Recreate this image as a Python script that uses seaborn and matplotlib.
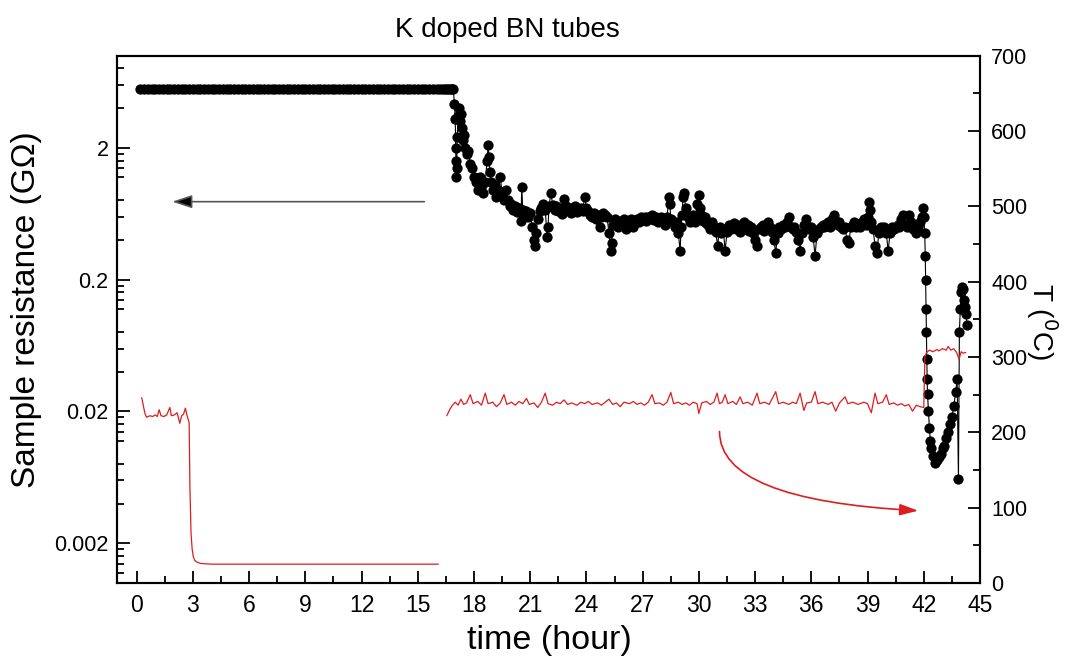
import matplotlib
matplotlib.use("Agg")
import matplotlib.pyplot as plt
import pandas as pd
import seaborn as sns
from matplotlib.ticker import FixedLocator, NullFormatter
from matplotlib import font_manager

# ---------------- data ----------------
# saturated part of the resistance curve (instrument limit)
res_sat_time = [0.2, 0.4, 0.6, 0.8, 1.0, 1.2, 1.4, 1.6, 1.8, 2.0, 2.2, 2.4, 2.6, 2.8,
                3.0, 3.2, 3.4, 3.6, 3.8, 4.0, 4.2, 4.4, 4.6, 4.8, 5.0, 5.2, 5.4, 5.6,
                5.8, 6.0, 6.2, 6.4, 6.6, 6.8, 7.0, 7.2, 7.4, 7.6, 7.8, 8.0, 8.2, 8.4,
                8.6, 8.8, 9.0, 9.2, 9.4, 9.6, 9.8, 10.0, 10.2, 10.4, 10.6, 10.8, 11.0,
                11.2, 11.4, 11.6, 11.8, 12.0, 12.2, 12.4, 12.6, 12.8, 13.0, 13.2, 13.4,
                13.6, 13.8, 14.0, 14.2, 14.4, 14.6, 14.8, 15.0, 15.2, 15.4, 15.6, 15.8,
                16.0, 16.2]
res_sat_level = 5.62

res_time = [16.35, 16.45, 16.55, 16.65, 16.75, 16.85, 16.9, 16.95, 17.0, 17.02, 17.04, 17.06, 17.08, 17.1,
            17.15, 17.2, 17.25, 17.3, 17.35, 17.4, 17.45, 17.5, 17.6, 17.7, 17.8,
            17.9, 18.0, 18.1, 18.2, 18.3, 18.4, 18.5, 18.6, 18.7, 18.75, 18.8, 18.85,
            18.9, 19.0, 19.1, 19.2, 19.3, 19.4, 19.5, 19.6, 19.7, 19.8, 19.9, 20.0,
            20.1, 20.2, 20.3, 20.4, 20.5, 20.55, 20.6, 20.7, 20.8, 20.9, 21.0, 21.1,
            21.2, 21.25, 21.3, 21.4, 21.5, 21.6, 21.7, 21.8, 21.9, 21.95, 22.0, 22.1,
            22.2, 22.3, 22.4, 22.5, 22.6, 22.7, 22.8, 22.9, 23.0, 23.1, 23.2, 23.3,
            23.4, 23.5, 23.6, 23.7, 23.8, 23.9, 24.0, 24.1, 24.2, 24.3, 24.4, 24.5,
            24.6, 24.7, 24.8, 24.9, 25.0, 25.1, 25.2, 25.3, 25.35, 25.4, 25.5, 25.6,
            25.7, 25.8, 25.9, 26.0, 26.1, 26.2, 26.3, 26.4, 26.5, 26.6, 26.7, 26.8,
            26.9, 27.0, 27.1, 27.2, 27.3, 27.4, 27.5, 27.6, 27.7, 27.8, 27.9, 28.0,
            28.1, 28.2, 28.3, 28.4, 28.45, 28.5, 28.6, 28.7, 28.8, 28.9, 29.0, 29.05,
            29.1, 29.15, 29.2, 29.3, 29.4, 29.5, 29.6, 29.7, 29.8, 29.9, 30.0, 30.05,
            30.1, 30.2, 30.3, 30.4, 30.5, 30.6, 30.7, 30.8, 30.9, 31.0, 31.1, 31.2,
            31.3, 31.4, 31.5, 31.6, 31.7, 31.8, 31.9, 32.0, 32.1, 32.2, 32.3, 32.4,
            32.5, 32.6, 32.7, 32.8, 32.9, 33.0, 33.1, 33.2, 33.3, 33.4, 33.5, 33.6,
            33.7, 33.8, 33.9, 34.0, 34.1, 34.2, 34.3, 34.4, 34.5, 34.6, 34.7, 34.8,
            34.9, 35.0, 35.1, 35.2, 35.3, 35.4, 35.5, 35.6, 35.7, 35.8, 35.9, 36.0,
            36.1, 36.2, 36.3, 36.4, 36.5, 36.6, 36.7, 36.8, 36.9, 37.0, 37.1, 37.2,
            37.3, 37.4, 37.5, 37.6, 37.7, 37.8, 37.9, 38.0, 38.1, 38.2, 38.3, 38.4,
            38.5, 38.6, 38.7, 38.8, 38.9, 39.0, 39.1, 39.15, 39.2, 39.3, 39.4, 39.5,
            39.6, 39.7, 39.8, 39.9, 40.0, 40.1, 40.2, 40.3, 40.4, 40.5, 40.6, 40.7,
            40.8, 40.9, 41.0, 41.1, 41.2, 41.3, 41.4, 41.5, 41.6, 41.7, 41.8, 41.9,
            41.95, 42.0, 42.05, 42.08, 42.1, 42.12, 42.14, 42.16, 42.18, 42.2, 42.25,
            42.3, 42.35, 42.4, 42.5, 42.6, 42.7, 42.8, 42.9, 43.0, 43.1, 43.2, 43.3,
            43.4, 43.5, 43.6, 43.7, 43.78, 43.85, 43.9, 43.95, 44.0, 44.05, 44.1,
            44.15, 44.2, 44.25, 44.3]
res_value = [5.62, 5.62, 5.62, 5.62, 5.62, 5.62, 5.62, 4.3, 3.3, 2.0, 1.6, 1.2, 1.4, 2.4,
             3.5, 4.0, 3.2, 3.6, 2.8, 2.3, 2.5, 2.0, 1.8, 1.9, 1.5,
             1.4, 1.2, 1.1, 0.95, 1.2, 1.05, 0.9, 1.1, 1.6, 2.1, 1.7, 1.3,
             1.1, 0.95, 1.05, 0.85, 0.95, 1.2, 0.9, 0.8, 0.95, 0.8, 0.72, 0.75,
             0.68, 0.72, 0.65, 0.7, 0.56, 1.0, 0.68, 0.62, 0.66, 0.6, 0.64, 0.5,
             0.4, 0.36, 0.45, 0.58, 0.66, 0.7, 0.75, 0.68, 0.42, 0.5, 0.72, 0.9,
             0.74, 0.68, 0.72, 0.66, 0.7, 0.63, 0.82, 0.72, 0.68, 0.7, 0.64, 0.67,
             0.72, 0.65, 0.68, 0.7, 0.66, 0.85, 0.7, 0.66, 0.62, 0.6, 0.64, 0.58,
             0.62, 0.5, 0.6, 0.64, 0.62, 0.6, 0.45, 0.33, 0.38, 0.52, 0.58, 0.55,
             0.5, 0.56, 0.52, 0.58, 0.48, 0.55, 0.52, 0.58, 0.5, 0.54, 0.58, 0.55,
             0.6, 0.57, 0.6, 0.56, 0.6, 0.58, 0.62, 0.57, 0.6, 0.55, 0.58, 0.6,
             0.55, 0.52, 0.6, 0.85, 0.75, 0.58, 0.55, 0.5, 0.55, 0.45, 0.33, 0.5,
             0.62, 0.85, 0.9, 0.7, 0.6, 0.55, 0.58, 0.62, 0.55, 0.75, 0.88, 0.7,
             0.62, 0.56, 0.6, 0.54, 0.52, 0.48, 0.55, 0.5, 0.46, 0.36, 0.5, 0.45,
             0.48, 0.33, 0.46, 0.52, 0.48, 0.5, 0.54, 0.48, 0.52, 0.46, 0.5, 0.55,
             0.48, 0.52, 0.47, 0.5, 0.45, 0.4, 0.36, 0.48, 0.5, 0.52, 0.47, 0.5,
             0.55, 0.5, 0.46, 0.4, 0.32, 0.45, 0.5, 0.48, 0.52, 0.5, 0.55, 0.6,
             0.5, 0.48, 0.5, 0.46, 0.4, 0.33, 0.45, 0.52, 0.58, 0.5, 0.48, 0.5,
             0.42, 0.3, 0.45, 0.48, 0.5, 0.52, 0.5, 0.53, 0.55, 0.5, 0.58, 0.62,
             0.56, 0.52, 0.55, 0.5, 0.48, 0.5, 0.4, 0.38, 0.5, 0.52, 0.55, 0.5,
             0.52, 0.5, 0.55, 0.58, 0.52, 0.6, 0.78, 0.68, 0.55, 0.48, 0.36, 0.32,
             0.45, 0.5, 0.48, 0.5, 0.45, 0.33, 0.45, 0.5, 0.48, 0.5, 0.52, 0.5,
             0.58, 0.62, 0.52, 0.5, 0.62, 0.55, 0.48, 0.5, 0.45, 0.5, 0.55, 0.6,
             0.7, 0.6, 0.45, 0.3, 0.2, 0.12, 0.08, 0.05, 0.035, 0.027, 0.02,
             0.015, 0.012, 0.0105, 0.0092, 0.0082, 0.0085, 0.009, 0.0095, 0.0105, 0.011, 0.0125, 0.014,
             0.016, 0.018, 0.022, 0.028, 0.035, 0.0062, 0.08, 0.12, 0.16, 0.175, 0.17,
             0.14, 0.125, 0.11, 0.09]

temp_time_1 = [0.27, 0.35, 0.44, 0.53, 0.7, 0.85, 1.0, 1.1, 1.2, 1.3, 1.45, 1.6, 1.77,
               1.85, 2.0, 2.16, 2.3, 2.4, 2.5, 2.6, 2.7, 2.8, 2.84, 2.9, 2.96, 3.02,
               3.1, 3.2, 3.4, 3.65, 4.0, 16.1]
temp_value_1 = [246, 236, 225, 220, 222, 221, 223, 221, 230, 222, 221, 223, 233,
                222, 223, 226, 212, 222, 224, 232, 221, 213, 128, 66, 45, 35,
                30, 28, 26, 25.5, 25, 25]

temp_time_2 = [16.55, 16.7, 16.85, 17.0, 17.15, 17.3, 17.45, 17.6, 17.8, 17.95, 18.2,
               18.4, 18.6, 18.75, 19.0, 19.2, 19.4, 19.6, 19.75, 20.0, 20.2, 20.4,
               20.6, 20.8, 20.95, 21.2, 21.4, 21.6, 21.8, 21.95, 22.2, 22.4, 22.6,
               22.8, 23.0, 23.2, 23.5, 23.7, 23.9, 24.1, 24.3, 24.6, 24.8, 25.0, 25.2,
               25.4, 25.6, 25.8, 26.0, 26.3, 26.5, 26.7, 26.9, 27.1, 27.3, 27.5,
               27.65, 27.9, 28.1, 28.3, 28.5, 28.65, 28.9, 29.1, 29.3, 29.5, 29.7,
               29.9, 30.0, 30.15, 30.4, 30.6, 30.8, 30.97, 31.1, 31.25, 31.4, 31.55,
               31.8, 32.0, 32.2, 32.35, 32.6, 32.85, 33.1, 33.25, 33.5, 33.75, 34.1,
               34.25, 34.5, 34.8, 35.0, 35.2, 35.4, 35.6, 35.75, 36.0, 36.2, 36.35,
               36.6, 36.9, 37.1, 37.3, 37.5, 37.8, 37.95, 38.2, 38.5, 38.8, 39.0,
               39.2, 39.4, 39.55, 39.8, 40.0, 40.15, 40.4, 40.6, 40.8, 41.0, 41.2,
               41.4, 41.6, 41.8, 42.0, 42.06, 42.15, 42.3, 42.5, 42.7, 42.8, 43.0,
               43.2, 43.3, 43.45, 43.6, 43.75, 43.88, 44.0, 44.1, 44.24]
temp_value_2 = [222, 230, 236, 240, 236, 244, 237, 239, 250, 238, 241,
                236, 252, 238, 240, 234, 239, 250, 237, 240, 236, 241,
                238, 245, 237, 239, 233, 240, 252, 238, 236, 240, 238,
                243, 237, 239, 236, 240, 238, 241, 237, 239, 236, 240, 244,
                237, 239, 234, 240, 238, 241, 237, 239, 236, 240, 250,
                238, 239, 236, 240, 253, 238, 240, 237, 239, 236, 240,
                238, 225, 239, 241, 237, 240, 252, 238, 240, 250, 238,
                241, 237, 247, 238, 240, 236, 252, 238, 240, 237, 254,
                238, 240, 237, 240, 238, 252, 229, 239, 240, 254, 238,
                240, 237, 240, 228, 239, 247, 238, 240, 237, 240, 238,
                226, 252, 238, 240, 250, 237, 239, 236, 238, 235, 237,
                228, 236, 234, 233, 300, 306, 309, 307, 310, 308, 311,
                309, 314, 309, 311, 306, 297, 307, 305, 306]

x_tick_values = [0, 3, 6, 9, 12, 15, 18, 21, 24, 27, 30, 33, 36, 39, 42, 45]
left_tick_values = [0.002, 0.02, 0.2, 2]
left_tick_labels = ["0.002", "0.02", "0.2", "2"]
right_tick_values = [0, 100, 200, 300, 400, 500, 600, 700]

# ---------------- styling ----------------
sns.set_theme(style="ticks")
plt.rcParams["font.family"] = ["Liberation Sans", "DejaVu Sans"]
plt.rcParams.update({
    "axes.edgecolor": "black",
    "axes.linewidth": 1.5,
    "xtick.color": "black",
    "ytick.color": "black",
    "text.color": "black",
    "axes.labelcolor": "black",
})

avail = {f.name for f in font_manager.fontManager.ttflist}
narrow = "Liberation Sans Narrow" if "Liberation Sans Narrow" in avail else None

fig = plt.figure(figsize=(10.66, 6.66), dpi=100)
ax = fig.add_axes([117 / 1066, 1 - 583 / 666, (980 - 117) / 1066, (583 - 55.6) / 666])
ax.set_yscale("log")

res_df = pd.DataFrame({
    "time": res_sat_time + res_time,
    "R": [res_sat_level] * len(res_sat_time) + res_value,
})
sns.lineplot(data=res_df, x="time", y="R", ax=ax, estimator=None, sort=False,
             color="black", lw=0.8, marker="o", markersize=7.4,
             markeredgewidth=0, markerfacecolor="black")

ax.set_xlim(-1.05, 45)
ax.set_ylim(0.001, 10)
ax.set_xticks(x_tick_values)
ax.xaxis.set_minor_locator(FixedLocator([v + 1.5 for v in x_tick_values[:-1]]))
ax.yaxis.set_major_locator(FixedLocator(left_tick_values))
ax.set_yticklabels(left_tick_labels)
minor_left = []
for m in [0.0002, 0.002, 0.02, 0.2, 2]:
    for f in [2, 3, 4, 6, 7, 8, 9]:
        v = m * f
        if 0.001 < v < 10 and v not in left_tick_values:
            minor_left.append(v)
ax.yaxis.set_minor_locator(FixedLocator(minor_left))
ax.yaxis.set_minor_formatter(NullFormatter())
ax.tick_params(axis="x", which="both", direction="in", top=False, bottom=True, pad=8)
ax.tick_params(axis="y", which="both", direction="in", left=True, right=False, pad=6,
               labelsize=15.5)
ax.tick_params(which="major", length=9, width=1.3)
ax.tick_params(which="minor", length=5, width=1.3)
for lab in ax.get_xticklabels():
    if narrow:
        lab.set_fontfamily(narrow)
    else:
        lab.set_fontstretch("condensed")
    lab.set_fontsize(16.5)
ax.set_xlabel("")
ax.set_ylabel("")

ax2 = ax.twinx()
sns.lineplot(x=temp_time_1, y=temp_value_1, ax=ax2, estimator=None, sort=False,
             color="#dc1e1e", lw=0.9)
sns.lineplot(x=temp_time_2, y=temp_value_2, ax=ax2, estimator=None, sort=False,
             color="#dc1e1e", lw=0.9)
ax2.set_ylim(0, 700)
ax2.set_yticks(right_tick_values)
ax2.yaxis.set_minor_locator(FixedLocator([v + 50 for v in right_tick_values[:-1]]))
ax2.tick_params(axis="y", which="both", direction="in", right=True, left=False,
                pad=8, labelsize=15.5)
ax2.tick_params(which="major", length=9, width=1.3)
ax2.tick_params(which="minor", length=5, width=1.3)
ax2.set_ylabel("")
for sp in ax2.spines.values():
    sp.set_linewidth(1.5)
    sp.set_color("black")

# arrows
ax.annotate("", xy=(1.9, 0.78), xytext=(15.35, 0.78),
            arrowprops=dict(arrowstyle="-|>,head_length=0.6,head_width=0.2",
                            mutation_scale=20, lw=1.2, ec="#555555", fc="black",
                            shrinkA=0, shrinkB=0))
ax2.annotate("", xy=(41.7, 96), xytext=(31.1, 201),
             arrowprops=dict(arrowstyle="-|>,head_length=0.8,head_width=0.25",
                             mutation_scale=14, lw=1.2, color="#dc1e1e",
                             connectionstyle="angle3,angleA=90,angleB=-3",
                             shrinkA=0, shrinkB=0))

# texts
fig.text(507 / 1066, 1 - 30 / 666, "K doped BN tubes", ha="center", va="center",
         fontsize=20)
fig.text(27 / 1066, 1 - 310 / 666, "Sample resistance (G\u03a9)", rotation=90,
         ha="center", va="center", fontsize=24)
fig.text(1042 / 1066, 1 - 322 / 666, "T ($^{0}$C)", rotation=270,
         ha="center", va="center", fontsize=20)
xl = fig.text(549 / 1066, 1 - 640 / 666, "time (hour)", ha="center", va="center",
              fontsize=24.5)
if narrow:
    xl.set_fontfamily(narrow)
else:
    xl.set_fontstretch("condensed")

fig.savefig("out.png", dpi=100)
